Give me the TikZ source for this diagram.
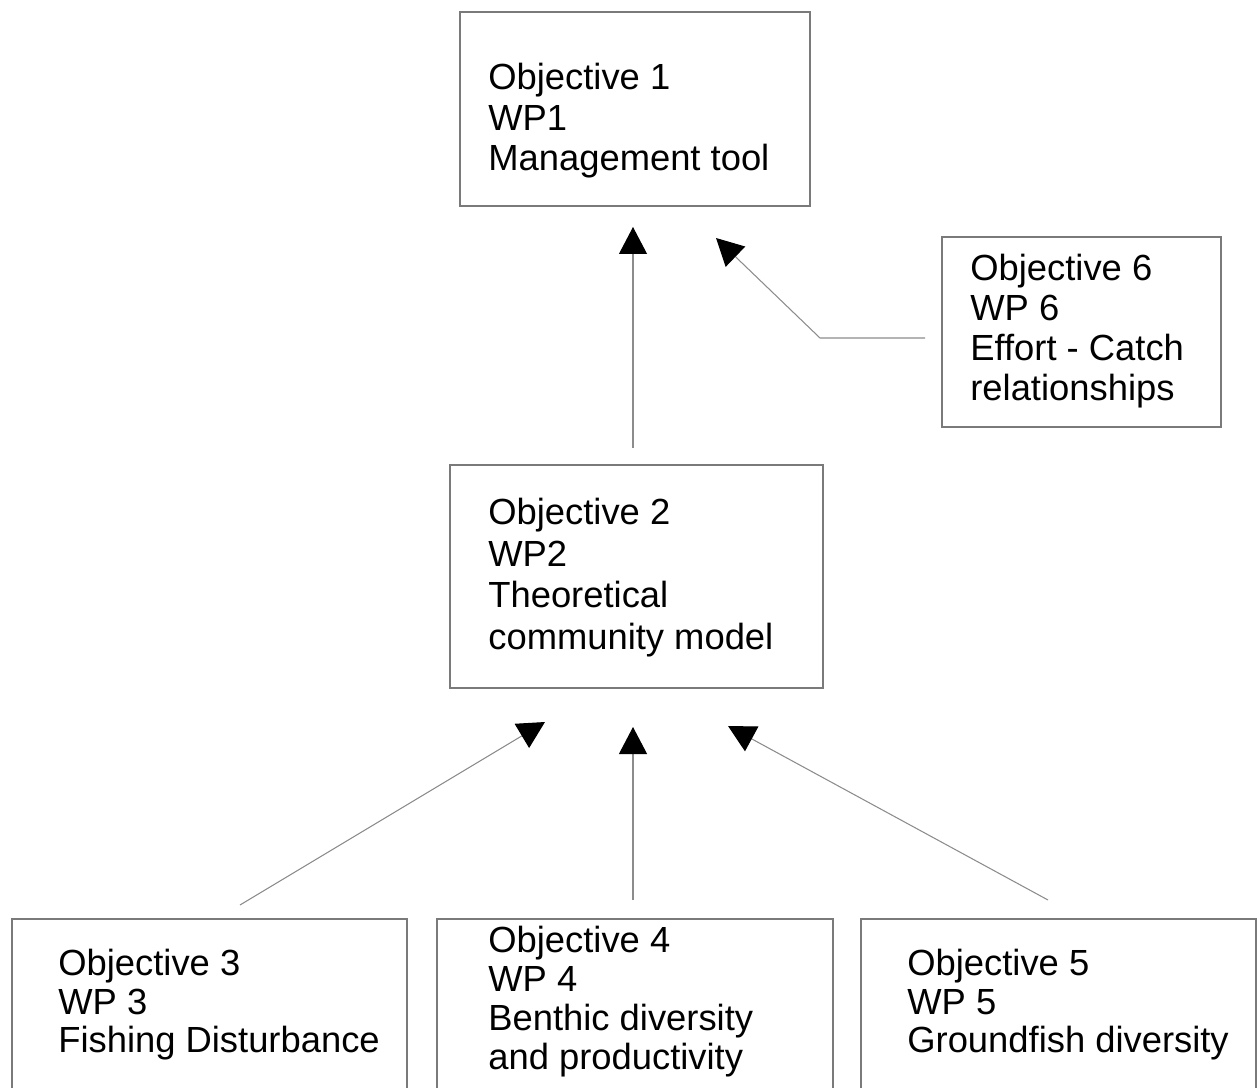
\documentclass[tikz,border=0pt]{standalone}
\usepackage{fontspec}
\setmainfont{Liberation Sans}
\usetikzlibrary{arrows.meta}
\definecolor{boxgray}{HTML}{7A7A7A}
\definecolor{linkgray}{HTML}{8C8C8C}
\tikzset{
  objbox/.style={draw=boxgray, line width=0.7pt, inner sep=0pt},
  objtext/.style={anchor=north west, inner sep=0pt, align=left, font=\fontsize{20.7}{#1}\selectfont},
  objtext/.default=22.7pt,
  link/.style={draw=linkgray, line width=0.6pt, -{Triangle[length=0.54cm,width=0.56cm,color=black]}}
}
\begin{document}
\begin{tikzpicture}[x=0.02cm, y=-0.02cm]
  \useasboundingbox (0,0) rectangle (1258,1088);

  % boxes
  \node[objbox, minimum width=7cm, minimum height=3.88cm] (obj1) at (635,109) {};
  \node[objbox, minimum width=7.46cm, minimum height=4.46cm] (obj2) at (636.5,576.5) {};
  \node[objbox, minimum width=5.58cm, minimum height=3.8cm] (obj6) at (1081.5,332) {};
  \node[objbox, minimum width=7.9cm, minimum height=3.82cm] (obj3) at (209.5,1014.5) {};
  \node[objbox, minimum width=7.92cm, minimum height=3.82cm] (obj4) at (635,1014.5) {};
  \node[objbox, minimum width=7.9cm, minimum height=3.82cm] (obj5) at (1058.5,1014.5) {};

  % texts
  \node[objtext=23pt] (txt1) at (488,63) {Objective 1\\WP1\\Management tool};
  \node[objtext=23.6pt] (txt2) at (488,498) {Objective 2\\WP2\\Theoretical\\community model};
  \node[objtext] (txt6) at (970,254) {Objective 6\\WP 6\\Effort - Catch\\relationships};
  \node[objtext=21.8pt] (txt3) at (58,949) {Objective 3\\WP 3\\Fishing Disturbance};
  \node[objtext=22.1pt] (txt4) at (488,926) {Objective 4\\WP 4\\Benthic diversity\\and productivity};
  \node[objtext=21.8pt] (txt5) at (907,949) {Objective 5\\WP 5\\Groundfish diversity};

  % arrow ends
  \coordinate (s2) at (633,448);
  \coordinate (t2) at (633,227);
  \coordinate (s6) at (925,338);
  \coordinate (b6) at (820,338);
  \coordinate (t6) at (716,238);
  \coordinate (s3) at (240,905);
  \coordinate (t3) at (545,722);
  \coordinate (s4) at (633,900);
  \coordinate (t4) at (633,727);
  \coordinate (s5) at (1048,900);
  \coordinate (t5) at (728,726);

  \draw[link] (s2) -- (t2);
  \draw[link] (s6) -- (b6) -- (t6);
  \foreach \s/\t in {s3/t3, s4/t4, s5/t5}
    \draw[link] (\s) -- (\t);
\end{tikzpicture}
\end{document}
